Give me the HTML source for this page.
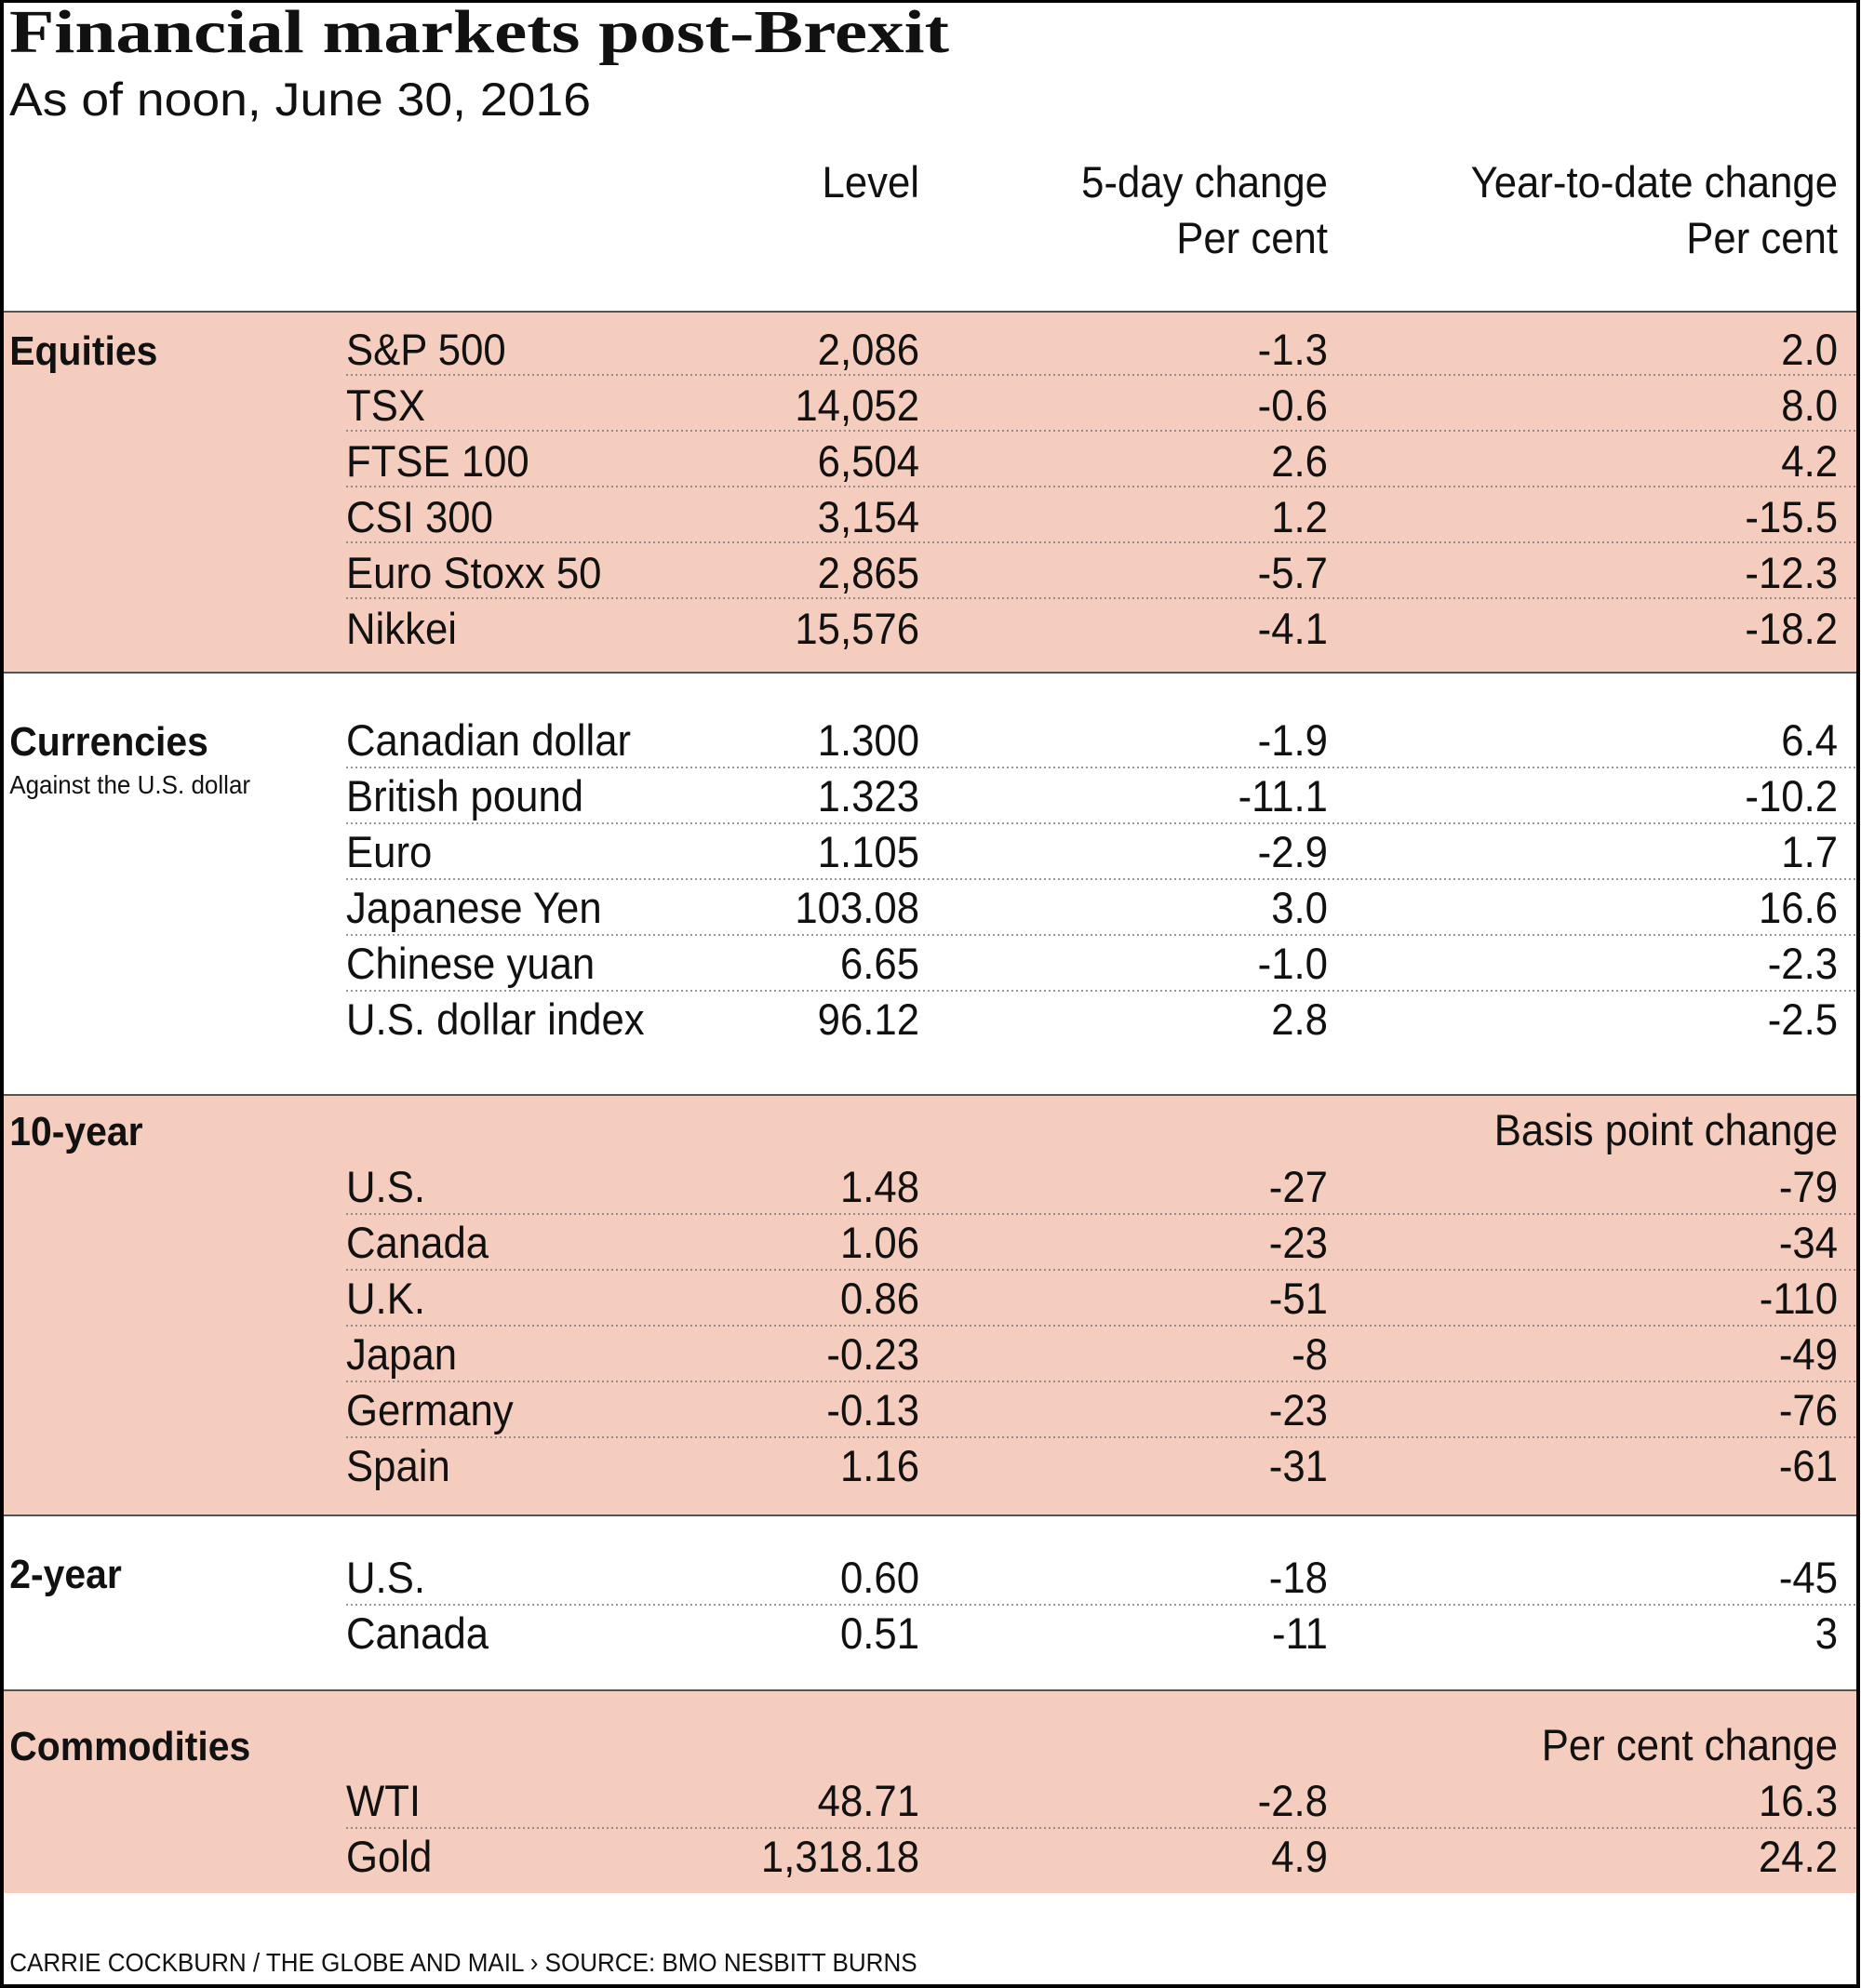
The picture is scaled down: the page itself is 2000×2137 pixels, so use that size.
<!DOCTYPE html>
<html><head><meta charset="utf-8"><style>
html,body{margin:0;padding:0;background:#fff;}
svg{display:block;}
text{font-family:"Liberation Sans",sans-serif;fill:#111;}
.s{font-family:"Liberation Serif",serif;font-weight:bold;}
</style></head><body>
<svg width="2000" height="2137" viewBox="0 0 2000 2137" xmlns="http://www.w3.org/2000/svg">
<rect x="0" y="0" width="2000" height="2137" fill="#fff"/>
<rect x="4" y="335" width="1992" height="388" fill="#f5cdbf"/>
<rect x="4" y="1177" width="1992" height="452" fill="#f5cdbf"/>
<rect x="4" y="1817" width="1992" height="218" fill="#f5cdbf"/>
<g stroke="#555" stroke-width="2">
<line x1="4" y1="335" x2="1996" y2="335"/>
<line x1="4" y1="723" x2="1996" y2="723"/>
<line x1="4" y1="1177" x2="1996" y2="1177"/>
<line x1="4" y1="1629" x2="1996" y2="1629"/>
<line x1="4" y1="1817" x2="1996" y2="1817"/>
</g>
<g stroke="#777" stroke-width="1.5" stroke-dasharray="2,3">
<line x1="372" y1="403" x2="1996" y2="403"/>
<line x1="372" y1="463" x2="1996" y2="463"/>
<line x1="372" y1="523" x2="1996" y2="523"/>
<line x1="372" y1="583" x2="1996" y2="583"/>
<line x1="372" y1="643" x2="1996" y2="643"/>
<line x1="372" y1="825" x2="1996" y2="825"/>
<line x1="372" y1="885" x2="1996" y2="885"/>
<line x1="372" y1="945" x2="1996" y2="945"/>
<line x1="372" y1="1005" x2="1996" y2="1005"/>
<line x1="372" y1="1065" x2="1996" y2="1065"/>
<line x1="372" y1="1305" x2="1996" y2="1305"/>
<line x1="372" y1="1365" x2="1996" y2="1365"/>
<line x1="372" y1="1425" x2="1996" y2="1425"/>
<line x1="372" y1="1485" x2="1996" y2="1485"/>
<line x1="372" y1="1545" x2="1996" y2="1545"/>
<line x1="372" y1="1725" x2="1996" y2="1725"/>
<line x1="372" y1="1965" x2="1996" y2="1965"/>
</g>
<rect x="2" y="1" width="1995" height="2134" fill="none" stroke="#000" stroke-width="4"/>

<text class="s" x="10" y="56" font-size="66" textLength="1010" lengthAdjust="spacingAndGlyphs">Financial markets post-Brexit</text>
<text x="10" y="124" font-size="50" textLength="625" lengthAdjust="spacingAndGlyphs">As of noon, June 30, 2016</text>

<g transform="scale(0.93,1)" font-size="47">
<g text-anchor="end">
<text x="1062.4" y="212">Level</text>
<text x="1534.4" y="212">5-day change</text>
<text x="1534.4" y="272">Per cent</text>
<text x="2123.7" y="212">Year-to-date change</text>
<text x="2123.7" y="272">Per cent</text>
<text x="2123.7" y="1231">Basis point change</text>
<text x="2123.7" y="1892">Per cent change</text>
</g>
<g font-weight="bold" font-size="44">
<text x="11" y="392">Equities</text>
<text x="11" y="812">Currencies</text>
<text x="11" y="1231">10-year</text>
<text x="11" y="1707">2-year</text>
<text x="11" y="1892">Commodities</text>
</g>
<text x="11" y="853" font-size="28">Against the U.S. dollar</text>

<g>
<text x="400" y="392">S&amp;P 500</text>
<text x="400" y="452">TSX</text>
<text x="400" y="512">FTSE 100</text>
<text x="400" y="572">CSI 300</text>
<text x="400" y="632">Euro Stoxx 50</text>
<text x="400" y="692">Nikkei</text>
<text x="400" y="812">Canadian dollar</text>
<text x="400" y="872">British pound</text>
<text x="400" y="932">Euro</text>
<text x="400" y="992">Japanese Yen</text>
<text x="400" y="1052">Chinese yuan</text>
<text x="400" y="1112">U.S. dollar index</text>
<text x="400" y="1292">U.S.</text>
<text x="400" y="1352">Canada</text>
<text x="400" y="1412">U.K.</text>
<text x="400" y="1472">Japan</text>
<text x="400" y="1532">Germany</text>
<text x="400" y="1592">Spain</text>
<text x="400" y="1712">U.S.</text>
<text x="400" y="1772">Canada</text>
<text x="400" y="1952">WTI</text>
<text x="400" y="2012">Gold</text>
</g>
<g text-anchor="end">
<text x="1062.4" y="392">2,086</text><text x="1534.4" y="392">-1.3</text><text x="2123.7" y="392">2.0</text>
<text x="1062.4" y="452">14,052</text><text x="1534.4" y="452">-0.6</text><text x="2123.7" y="452">8.0</text>
<text x="1062.4" y="512">6,504</text><text x="1534.4" y="512">2.6</text><text x="2123.7" y="512">4.2</text>
<text x="1062.4" y="572">3,154</text><text x="1534.4" y="572">1.2</text><text x="2123.7" y="572">-15.5</text>
<text x="1062.4" y="632">2,865</text><text x="1534.4" y="632">-5.7</text><text x="2123.7" y="632">-12.3</text>
<text x="1062.4" y="692">15,576</text><text x="1534.4" y="692">-4.1</text><text x="2123.7" y="692">-18.2</text>
<text x="1062.4" y="812">1.300</text><text x="1534.4" y="812">-1.9</text><text x="2123.7" y="812">6.4</text>
<text x="1062.4" y="872">1.323</text><text x="1534.4" y="872">-11.1</text><text x="2123.7" y="872">-10.2</text>
<text x="1062.4" y="932">1.105</text><text x="1534.4" y="932">-2.9</text><text x="2123.7" y="932">1.7</text>
<text x="1062.4" y="992">103.08</text><text x="1534.4" y="992">3.0</text><text x="2123.7" y="992">16.6</text>
<text x="1062.4" y="1052">6.65</text><text x="1534.4" y="1052">-1.0</text><text x="2123.7" y="1052">-2.3</text>
<text x="1062.4" y="1112">96.12</text><text x="1534.4" y="1112">2.8</text><text x="2123.7" y="1112">-2.5</text>
<text x="1062.4" y="1292">1.48</text><text x="1534.4" y="1292">-27</text><text x="2123.7" y="1292">-79</text>
<text x="1062.4" y="1352">1.06</text><text x="1534.4" y="1352">-23</text><text x="2123.7" y="1352">-34</text>
<text x="1062.4" y="1412">0.86</text><text x="1534.4" y="1412">-51</text><text x="2123.7" y="1412">-110</text>
<text x="1062.4" y="1472">-0.23</text><text x="1534.4" y="1472">-8</text><text x="2123.7" y="1472">-49</text>
<text x="1062.4" y="1532">-0.13</text><text x="1534.4" y="1532">-23</text><text x="2123.7" y="1532">-76</text>
<text x="1062.4" y="1592">1.16</text><text x="1534.4" y="1592">-31</text><text x="2123.7" y="1592">-61</text>
<text x="1062.4" y="1712">0.60</text><text x="1534.4" y="1712">-18</text><text x="2123.7" y="1712">-45</text>
<text x="1062.4" y="1772">0.51</text><text x="1534.4" y="1772">-11</text><text x="2123.7" y="1772">3</text>
<text x="1062.4" y="1952">48.71</text><text x="1534.4" y="1952">-2.8</text><text x="2123.7" y="1952">16.3</text>
<text x="1062.4" y="2012">1,318.18</text><text x="1534.4" y="2012">4.9</text><text x="2123.7" y="2012">24.2</text>
</g>
<text x="11" y="2119" font-size="28">CARRIE COCKBURN / THE GLOBE AND MAIL  ›  SOURCE: BMO NESBITT BURNS</text>
</g>
</svg>
</body></html>
